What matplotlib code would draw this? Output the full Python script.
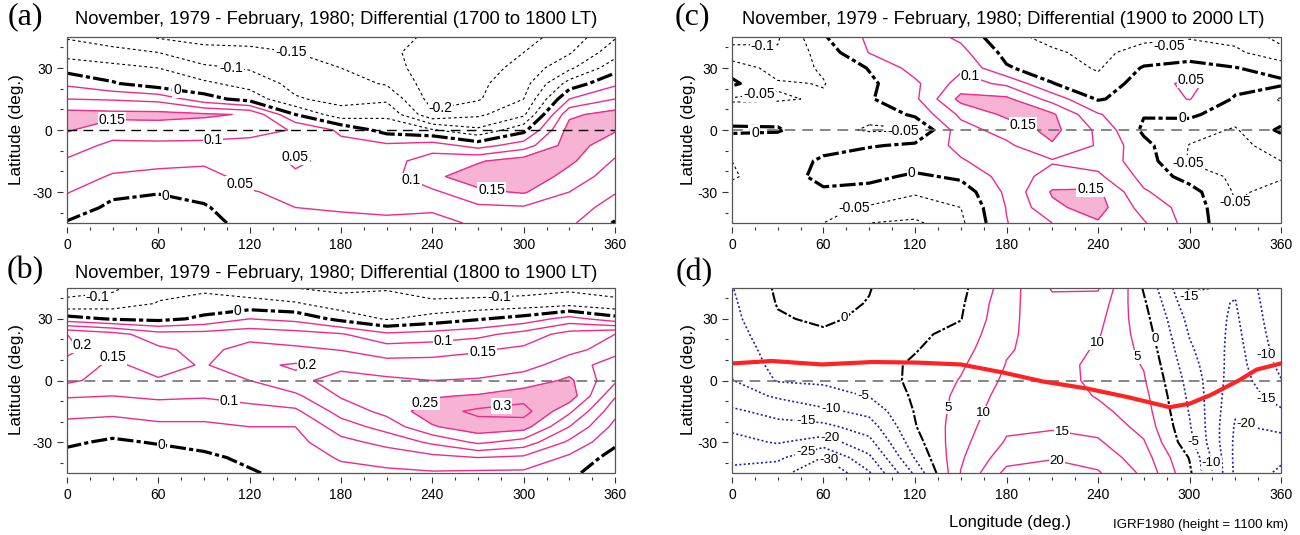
import numpy as np
import matplotlib.pyplot as plt
from matplotlib.patches import Rectangle

plt.rcParams['font.family'] = ['Liberation Sans', 'DejaVu Sans']
plt.rcParams['axes.unicode_minus'] = False

lon = [0, 30, 60, 90, 120, 150, 180, 210, 240, 270, 300, 330, 360]
lat = [45, 37.5, 30, 22.5, 15, 7.5, 0, -7.5, -15, -22.5, -30, -37.5, -45]

# one column per longitude, values from 45N down to 45S
diff_1700_1800 = [
    [-0.105, -0.07, -0.02, 0.04, 0.1, 0.17, 0.155, 0.12, 0.095, 0.075, 0.053, 0.03, -0.005],
    [-0.125, -0.085, -0.035, 0.005, 0.095, 0.165, 0.12, 0.09, 0.07, 0.045, 0.012, -0.012, -0.03],
    [-0.155, -0.1, -0.05, -0.03, 0.085, 0.165, 0.125, 0.09, 0.065, 0.035, 0.003, -0.02, -0.03],
    [-0.165, -0.135, -0.09, -0.04, 0.02, 0.158, 0.12, 0.09, 0.055, 0.04, 0.015, -0.005, -0.02],
    [-0.165, -0.14, -0.105, -0.07, -0.02, 0.145, 0.11, 0.09, 0.07, 0.06, 0.048, 0.03, 0.02],
    [-0.17, -0.15, -0.13, -0.115, -0.095, 0.0, 0.098, 0.065, 0.045, 0.055, 0.057, 0.05, 0.04],
    [-0.175, -0.165, -0.15, -0.13, -0.115, -0.08, 0.04, 0.065, 0.06, 0.06, 0.058, 0.052, 0.045],
    [-0.19, -0.19, -0.18, -0.155, -0.11, -0.06, -0.02, 0.06, 0.08, 0.08, 0.065, 0.055, 0.045],
    [-0.205, -0.22, -0.225, -0.225, -0.22, -0.19, -0.045, 0.075, 0.125, 0.14, 0.09, 0.055, 0.04],
    [-0.225, -0.225, -0.22, -0.21, -0.205, -0.16, -0.09, 0.03, 0.145, 0.175, 0.14, 0.09, 0.055],
    [-0.215, -0.2, -0.185, -0.17, -0.15, -0.11, -0.015, 0.075, 0.175, 0.19, 0.155, 0.095, 0.07],
    [-0.18, -0.155, -0.11, -0.03, 0.05, 0.14, 0.17, 0.175, 0.16, 0.13, 0.1, 0.075, 0.06],
    [-0.105, -0.07, -0.02, 0.04, 0.1, 0.17, 0.155, 0.12, 0.095, 0.075, 0.053, 0.03, -0.005],
]

diff_1800_1900 = [
    [-0.115, -0.09, 0.02, 0.2, 0.215, 0.18, 0.16, 0.105, 0.065, 0.035, 0.01, -0.02, -0.03],
    [-0.11, -0.075, -0.005, 0.17, 0.16, 0.14, 0.13, 0.1, 0.06, 0.03, -0.01, -0.03, -0.03],
    [-0.06, -0.048, -0.015, 0.12, 0.16, 0.17, 0.145, 0.11, 0.07, 0.04, 0.005, -0.03, -0.045],
    [-0.06, -0.03, 0.01, 0.12, 0.135, 0.145, 0.135, 0.105, 0.07, 0.04, 0.015, -0.01, -0.02],
    [-0.075, -0.035, 0.05, 0.13, 0.17, 0.19, 0.15, 0.115, 0.085, 0.05, 0.03, 0.01, -0.005],
    [-0.1, -0.045, 0.035, 0.12, 0.16, 0.205, 0.19, 0.14, 0.09, 0.05, 0.035, 0.025, 0.015],
    [-0.11, -0.08, -0.015, 0.105, 0.148, 0.19, 0.215, 0.205, 0.17, 0.125, 0.085, 0.055, 0.035],
    [-0.105, -0.075, -0.055, 0.06, 0.125, 0.17, 0.21, 0.24, 0.215, 0.17, 0.115, 0.07, 0.04],
    [-0.125, -0.09, -0.03, 0.07, 0.13, 0.17, 0.2, 0.245, 0.28, 0.245, 0.16, 0.085, 0.045],
    [-0.125, -0.085, -0.005, 0.085, 0.145, 0.17, 0.205, 0.255, 0.31, 0.28, 0.21, 0.1, 0.04],
    [-0.12, -0.08, 0.02, 0.12, 0.16, 0.185, 0.22, 0.28, 0.32, 0.27, 0.18, 0.09, 0.04],
    [-0.11, -0.07, 0.07, 0.17, 0.19, 0.22, 0.26, 0.28, 0.21, 0.15, 0.09, 0.04, 0.01],
    [-0.115, -0.09, 0.02, 0.2, 0.215, 0.18, 0.16, 0.105, 0.065, 0.035, 0.01, -0.02, -0.03],
]

diff_1900_2000 = [
    [-0.115, -0.085, -0.02, 0.01, -0.055, -0.03, 0.01, -0.035, -0.05, -0.053, -0.04, -0.03, -0.02],
    [-0.105, -0.095, -0.07, -0.045, -0.055, -0.02, 0.005, -0.03, -0.035, -0.035, -0.03, -0.025, -0.02],
    [-0.005, -0.03, -0.045, -0.052, -0.045, -0.04, -0.035, -0.02, 0.01, 0.02, -0.01, -0.04, -0.05],
    [0.06, 0.052, 0.003, -0.01, -0.005, -0.04, -0.055, -0.005, 0.035, 0.015, -0.02, -0.055, -0.1],
    [0.08, 0.08, 0.07, 0.04, 0.04, 0.01, -0.055, 0.01, 0.03, -0.01, -0.045, -0.07, -0.11],
    [0.04, 0.065, 0.09, 0.12, 0.165, 0.11, 0.08, 0.065, 0.045, 0.01, -0.03, -0.05, -0.06],
    [-0.04, -0.015, 0.005, 0.09, 0.16, 0.16, 0.12, 0.09, 0.08, 0.07, 0.06, 0.052, 0.048],
    [-0.06, -0.045, -0.025, 0.002, 0.08, 0.158, 0.165, 0.145, 0.095, 0.12, 0.155, 0.14, 0.1],
    [-0.05, -0.06, -0.055, -0.035, -0.005, 0.055, 0.09, 0.095, 0.08, 0.11, 0.16, 0.17, 0.145],
    [-0.06, -0.035, 0.005, 0.025, 0.025, 0.003, -0.01, 0.015, 0.025, 0.035, 0.055, 0.08, 0.105],
    [-0.055, -0.02, 0.015, 0.062, 0.052, 0.01, -0.03, -0.052, -0.055, -0.02, 0.02, 0.03, 0.03],
    [-0.065, -0.04, 0.002, 0.015, -0.005, -0.03, -0.055, -0.06, -0.06, -0.06, -0.055, -0.048, -0.04],
    [-0.115, -0.085, -0.02, 0.01, -0.055, -0.03, 0.01, -0.035, -0.05, -0.053, -0.04, -0.03, -0.02],
]

igrf_1980 = [
    [-5.2, -5.8, -6.3, -7.0, -7.8, -8.8, -10.2, -12.5, -15.8, -19.0, -21.5, -24.0, -26.0],
    [0.8, 0.3, -0.5, -1.8, -2.8, -3.5, -4.6, -9.3, -13.5, -16.5, -19.6, -24.0, -28.0],
    [2.5, 2.0, 0.8, -0.7, -1.8, -3.0, -4.4, -6.5, -11.2, -16.3, -22.3, -30.2, -35.0],
    [0.3, -0.3, -1.0, -1.5, -1.8, -2.2, -3.0, -4.8, -8.5, -12.5, -16.5, -21.0, -25.5],
    [-5.2, -3.5, -2.2, -1.0, -0.3, 0.8, 1.2, 0.8, 0.3, -0.3, -2.0, -4.6, -9.0],
    [-1.5, -0.8, -0.2, 1.5, 3.0, 4.3, 5.3, 6.3, 7.0, 7.7, 8.5, 9.3, 10.2],
    [7.5, 8.5, 9.0, 9.3, 9.6, 10.2, 11.0, 12.0, 13.0, 14.2, 15.5, 18.0, 21.5],
    [15.5, 13.5, 12.5, 12.0, 11.8, 11.8, 12.0, 12.8, 13.6, 14.6, 16.3, 19.5, 23.0],
    [15.5, 13.0, 11.5, 10.5, 9.6, 8.8, 8.8, 9.6, 11.3, 13.5, 15.6, 18.0, 20.5],
    [-0.5, 0.8, 1.8, 2.8, 3.8, 4.7, 5.5, 6.5, 7.3, 8.4, 10.4, 12.3, 14.0],
    [-15.5, -13.5, -11.5, -10.3, -9.2, -8.0, -6.8, -6.0, -5.3, -4.5, -3.5, -0.3, 1.0],
    [-14.5, -15.2, -15.8, -16.3, -16.8, -17.2, -17.8, -18.6, -19.5, -20.5, -21.0, -21.2, -21.0],
    [-5.2, -5.8, -6.3, -7.0, -7.8, -8.8, -10.2, -12.5, -15.8, -19.0, -21.5, -24.0, -26.0],
]

# dip equator
dip_lon = [0, 26, 59, 92, 122, 150, 177, 204, 232, 259, 287, 300, 314, 333, 344, 360]
dip_lat = [8.3, 9.5, 7.8, 9.0, 8.7, 7.8, 4.0, -0.5, -3.8, -8.0, -13.0, -11.3, -7.0, 0.3, 5.3, 8.3]

PINK = '#ee2a8a'
FILL = '#f7b3d4'
NAVY = '#22229a'

# where the contour labels go: (lon, lat, level)
spots_a = [(147, 37, -0.15), (108, 29, -0.1), (246, 8, -0.2), (72, 18, 0), (65, -31, 0),
           (30, 4, 0.15), (96, -6, 0.1), (150, -11, 0.05), (112, -28, 0.05),
           (226, -25, 0.1), (278, -33, 0.15)]
spots_b = [(20, 41, -0.1), (284, 40, -0.1), (112, 34, 0), (62, -32, 0), (10, 20, 0.2),
           (32, 14, 0.15), (247, 19, 0.1), (273, 14, 0.15), (158, 8, 0.2), (107, -8, 0.1),
           (233, -8, 0.25), (286, -15, 0.3)]
spots_c = [(20, 36, -0.1), (18, 16, -0.05), (15, 0, 0), (112, 0, -0.05), (155, 23, 0.1),
           (187, -5, 0.15), (117, -18, 0), (79, -35, -0.05), (235, -27, 0.15),
           (287, 42, -0.05), (300, 22, 0.05), (295, 4, 0), (295, -20, -0.05),
           (330, -35, -0.05)]
spots_d = [(73, 31, 0), (86, -7, -5), (65, -13, -10), (48, -23, -15), (65, -27, -20),
           (48, -34, -25), (65, -37, -30), (140, -13, 5), (162, -15, 10), (240, 18, 10),
           (268, 12, 5), (277, 20, 0), (216, -27, 15), (213, -39, 20), (297, 38, -15),
           (353, 12, -10), (353, -6, -15), (340, -17, -20), (301, -30, -5), (316, -40, -10)]

fig = plt.figure(figsize=(13, 5.35), dpi=100)


def setup(ax):
    ax.set_xlim(0, 360)
    ax.set_ylim(-45, 45)
    for s in ['top', 'right']:
        ax.spines[s].set_visible(False)
    for s in ['left', 'bottom']:
        ax.spines[s].set_position(('outward', 3))
        ax.spines[s].set_color('none')
    ax.add_patch(Rectangle((0, 0), 1, 1, transform=ax.transAxes, fill=False,
                           ec='#555555', lw=0.9, zorder=6, clip_on=False))
    ax.set_xticks(range(0, 361, 60))
    ax.set_xticks(range(0, 361, 15), minor=True)
    ax.set_yticks([-30, 0, 30])
    ax.set_yticks([-40, -20, -10, 10, 20, 40], minor=True)
    ax.tick_params(which='major', direction='out', length=4.5, width=0.8,
                   labelsize=10, pad=3, color='#333333')
    ax.tick_params(which='minor', direction='out', length=2.3, width=0.8, color='#333333')


def contours(ax, cols, neg, pos, spots, fill_min=None, neg_color='k', neg_lw=0.8,
             neg_dash=(2.5, 2.5), zero_lw=2.3, fs=10):
    z = np.array(cols).T
    if fill_min is not None:
        ax.contourf(lon, lat, z, levels=[fill_min, 1e3], colors=[FILL], zorder=1)
    for lvl in neg + [0] + pos:
        if lvl < 0:
            cs = ax.contour(lon, lat, z, levels=[lvl], colors=neg_color, linewidths=neg_lw, zorder=2)
            cs.set_linestyle((0, neg_dash))
        elif lvl == 0:
            cs = ax.contour(lon, lat, z, levels=[0], colors='k', linewidths=zero_lw, zorder=3)
            cs.set_linestyle((0, (5, 1, 1.3, 1)))
        else:
            cs = ax.contour(lon, lat, z, levels=[lvl], colors=PINK, linewidths=1.0, zorder=2)
        pts = [(x, y) for x, y, l in spots if np.isclose(l, lvl)]
        if not pts or len(cs.allsegs[0]) == 0:
            continue
        labs = cs.clabel(manual=pts, fmt='%g', fontsize=fs, inline=False)
        for t in labs:
            x, y = t.get_position()
            t.set_position((min(max(x, 10), 350), min(max(y, -40.5), 40.5)))
            t.set_color('k')
            t.set_rotation(0)
            t.set_zorder(5)
            t.set_bbox(dict(fc='white', ec='none', pad=0.6))


W = 548 / 1300
H = 186 / 535
axa = fig.add_axes([67 / 1300, 1 - 223 / 535, W, H])
axb = fig.add_axes([67 / 1300, 1 - 473 / 535, W, 185 / 535])
axc = fig.add_axes([732 / 1300, 1 - 223 / 535, 549 / 1300, H])
axd = fig.add_axes([732 / 1300, 1 - 473 / 535, 549 / 1300, 185 / 535])

for ax in (axa, axb, axc, axd):
    setup(ax)

contours(axa, diff_1700_1800, [-0.2, -0.15, -0.1, -0.05], [0.05, 0.1, 0.15], spots_a,
         fill_min=0.15)
contours(axb, diff_1800_1900, [-0.1, -0.05], [0.05, 0.1, 0.15, 0.2, 0.25, 0.3], spots_b,
         fill_min=0.25)
contours(axc, diff_1900_2000, [-0.1, -0.05], [0.05, 0.1, 0.15], spots_c, fill_min=0.15)
contours(axd, igrf_1980, [-30, -25, -20, -15, -10, -5], [5, 10, 15, 20], spots_d,
         neg_color=NAVY, neg_lw=1.2, neg_dash=(1.2, 1.4), zero_lw=1.5, fs=9.5)

axa.axhline(0, color='k', lw=1.0, ls=(0, (7, 4.5)), zorder=4)
for ax in (axb, axc, axd):
    ax.axhline(0, color='#666666', lw=1.1, ls=(0, (7, 4.5)), zorder=4)

axd.plot(dip_lon, dip_lat, color='#ff2222', lw=3, solid_capstyle='round', zorder=4.5)

titles = ['November, 1979 - February, 1980; Differential (1700 to 1800 LT)',
          'November, 1979 - February, 1980; Differential (1800 to 1900 LT)',
          'November, 1979 - February, 1980; Differential (1900 to 2000 LT)']
fig.text(336 / 1300, 1 - 19 / 535, titles[0], ha='center', va='center', fontsize=13.2)
fig.text(336 / 1300, 1 - 273 / 535, titles[1], ha='center', va='center', fontsize=13.2)
fig.text(1003 / 1300, 1 - 19 / 535, titles[2], ha='center', va='center', fontsize=13.2)

for txt, x, y in [('(a)', 25, 17), ('(b)', 25, 271), ('(c)', 692, 17), ('(d)', 694, 273)]:
    fig.text(x / 1300, 1 - y / 535, txt, ha='center', va='center', fontsize=23,
             family=['Liberation Serif', 'DejaVu Serif'])

for x, y in [(17, 130), (17, 380), (688, 130), (688, 380)]:
    fig.text(x / 1300, 1 - y / 535, 'Latitude (deg.)', rotation=90, ha='center',
             va='center', fontsize=12.3)

fig.text(1010 / 1300, 1 - 523 / 535, 'Longitude (deg.)', ha='center', va='center', fontsize=12)
fig.text(1288 / 1300, 1 - 525 / 535, 'IGRF1980 (height = 1100 km)', ha='right',
         va='center', fontsize=9.5)

fig.savefig('out.png', dpi=100)
